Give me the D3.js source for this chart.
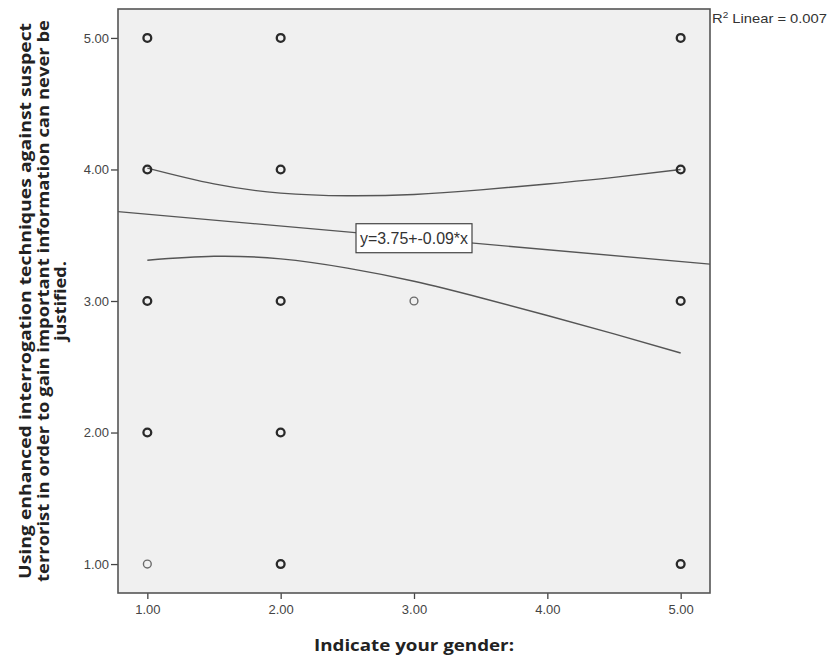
<!DOCTYPE html>
<html>
<head>
<meta charset="utf-8">
<script src="https://cdn.jsdelivr.net/npm/d3@7"></script>
<style>
  html, body { margin: 0; padding: 0; background: #ffffff; }
  svg { display: block; }
</style>
</head>
<body>
<svg id="chart" width="827" height="656"></svg>
<script>
// Observed responses: gender code (x), agreement score (y), number of cases at that spot
const pointX     = [1, 1, 1, 1, 1, 2, 2, 2, 2, 2, 3, 5, 5, 5, 5];
const pointY     = [5, 4, 3, 2, 1, 5, 4, 3, 2, 1, 3, 5, 4, 3, 1];
const pointCount = [3, 3, 4, 2, 1, 5, 5, 5, 3, 3, 1, 2, 3, 3, 3];

// Linear fit y = intercept + slope * x
const fitIntercept = 3.75;
const fitSlope = -0.09;
const rSquared = 0.007;

// 95% confidence band for the mean around the fit
const bandX     = [1, 1.5, 2, 2.5, 3, 3.5, 4, 4.5, 5];
const bandUpper = [4.01, 3.89, 3.82, 3.80, 3.81, 3.845, 3.89, 3.94, 4.00];
const bandLower = [3.31, 3.34, 3.32, 3.25, 3.15, 3.025, 2.89, 2.75, 2.605];

// Axis ticks
const xTicks = [1, 2, 3, 4, 5];
const yTicks = [1, 2, 3, 4, 5];

const xTitle = "Indicate your gender:";
const yTitleLines = [
  "Using enhanced interrogation techniques against suspect",
  "terrorist in order to gain important information can never be",
  "justified."
];
const yTitleLengths = [556, 562, 80];

const svg = d3.select("#chart");
const plot = { left: 118, right: 710, top: 9, bottom: 593 };

const x = d3.scaleLinear().domain([0.78, 5.22]).range([plot.left, plot.right]);
const y = d3.scaleLinear().domain([0.78, 5.22]).range([plot.bottom, plot.top]);

// Plot background
svg.append("rect")
  .attr("x", plot.left).attr("y", plot.top)
  .attr("width", plot.right - plot.left).attr("height", plot.bottom - plot.top)
  .attr("fill", "#f0f0f0");

svg.append("clipPath").attr("id", "plotClip")
  .append("rect")
  .attr("x", plot.left).attr("y", plot.top)
  .attr("width", plot.right - plot.left).attr("height", plot.bottom - plot.top);

const tickFont = "'Liberation Sans', Arial, sans-serif";

// X axis
const xAxis = svg.append("g")
  .attr("transform", `translate(0,${plot.bottom})`)
  .call(d3.axisBottom(x).tickValues(xTicks).tickFormat(d3.format(".2f")).tickSize(6).tickSizeOuter(0));
xAxis.select(".domain").remove();
xAxis.selectAll(".tick line").attr("stroke", "#444").attr("stroke-width", 1.3);
xAxis.selectAll(".tick text")
  .attr("fill", "#444").attr("font-family", tickFont).attr("font-size", 13)
  .attr("dy", "0.9em");

// Y axis
const yAxis = svg.append("g")
  .attr("transform", `translate(${plot.left},0)`)
  .call(d3.axisLeft(y).tickValues(yTicks).tickFormat(d3.format(".2f")).tickSize(7).tickSizeOuter(0));
yAxis.select(".domain").remove();
yAxis.selectAll(".tick line").attr("stroke", "#444").attr("stroke-width", 1.3);
yAxis.selectAll(".tick text")
  .attr("fill", "#444").attr("font-family", tickFont).attr("font-size", 13)
  .attr("x", -9);

// Frame
svg.append("rect")
  .attr("x", plot.left).attr("y", plot.top)
  .attr("width", plot.right - plot.left).attr("height", plot.bottom - plot.top)
  .attr("fill", "none").attr("stroke", "#555").attr("stroke-width", 1.6);

const g = svg.append("g").attr("clip-path", "url(#plotClip)");

// Confidence band curves
const bandLine = d3.line().x(d => x(d[0])).y(d => y(d[1])).curve(d3.curveNatural);
[bandUpper, bandLower].forEach(vals => {
  g.append("path")
    .datum(bandX.map((bx, i) => [bx, vals[i]]))
    .attr("d", bandLine)
    .attr("fill", "none").attr("stroke", "#555").attr("stroke-width", 1.4);
});

// Fit line across the full x range
const xDom = x.domain();
g.append("line")
  .attr("x1", x(xDom[0])).attr("y1", y(fitIntercept + fitSlope * xDom[0]))
  .attr("x2", x(xDom[1])).attr("y2", y(fitIntercept + fitSlope * xDom[1]))
  .attr("stroke", "#555").attr("stroke-width", 1.4);

// Data points: overlapping cases render darker and heavier
const pts = pointX.map((px, i) => ({ x: px, y: pointY[i], n: pointCount[i] }));
g.selectAll("circle.pt")
  .data(pts)
  .join("circle")
  .attr("class", "pt")
  .attr("cx", d => x(d.x)).attr("cy", d => y(d.y))
  .attr("r", 3.9)
  .attr("fill", "none")
  .attr("stroke", d => d.n > 1 ? "#2a2a2a" : "#6a6a6a")
  .attr("stroke-width", d => d.n > 1 ? 2.3 : 1.4);

// Equation label box, anchored on the fit line
const eqText = `y=${fitIntercept.toFixed(2)}+${fitSlope.toFixed(2)}*x`;
const eqX = 2.565;
const boxLeft = x(eqX);
const boxTop = y(fitIntercept + fitSlope * eqX) - 9;
const boxW = 116, boxH = 29;
svg.append("rect")
  .attr("x", boxLeft).attr("y", boxTop)
  .attr("width", boxW).attr("height", boxH)
  .attr("fill", "#ffffff").attr("stroke", "#444").attr("stroke-width", 1.2);
svg.append("text")
  .attr("x", boxLeft + 4).attr("y", boxTop + boxH / 2 + 6)
  .attr("font-family", tickFont).attr("font-size", 17)
  .attr("textLength", boxW - 8).attr("lengthAdjust", "spacingAndGlyphs")
  .attr("fill", "#333")
  .text(eqText);

// R squared note
const r2 = svg.append("text")
  .attr("transform", `translate(${plot.right + 2},23) scale(1.18,1)`)
  .attr("font-family", tickFont).attr("font-size", 12.5)
  .attr("fill", "#333");
r2.append("tspan").text("R");
r2.append("tspan").attr("font-size", 8.5).attr("dy", -5).text("2");
r2.append("tspan").attr("dy", 5).text(` Linear = ${rSquared.toFixed(3)}`);

// Axis titles
const titleFont = "'Open Sans', 'Noto Sans', sans-serif";
svg.append("text")
  .attr("x", (plot.left + plot.right) / 2).attr("y", 651)
  .attr("text-anchor", "middle")
  .attr("font-family", titleFont).attr("font-weight", "bold").attr("font-size", 16.5)
  .attr("textLength", 200).attr("lengthAdjust", "spacingAndGlyphs")
  .attr("fill", "#222")
  .text(xTitle);

const yTitle = svg.append("g")
  .attr("transform", `translate(31,${(plot.top + plot.bottom) / 2}) rotate(-90)`);
yTitleLines.forEach((line, i) => {
  yTitle.append("text")
    .attr("x", 0).attr("y", i * 17.5)
    .attr("text-anchor", "middle")
    .attr("font-family", titleFont).attr("font-weight", "bold").attr("font-size", 16.5)
    .attr("textLength", yTitleLengths[i]).attr("lengthAdjust", "spacingAndGlyphs")
    .attr("fill", "#222")
    .text(line);
});
</script>
</body>
</html>
